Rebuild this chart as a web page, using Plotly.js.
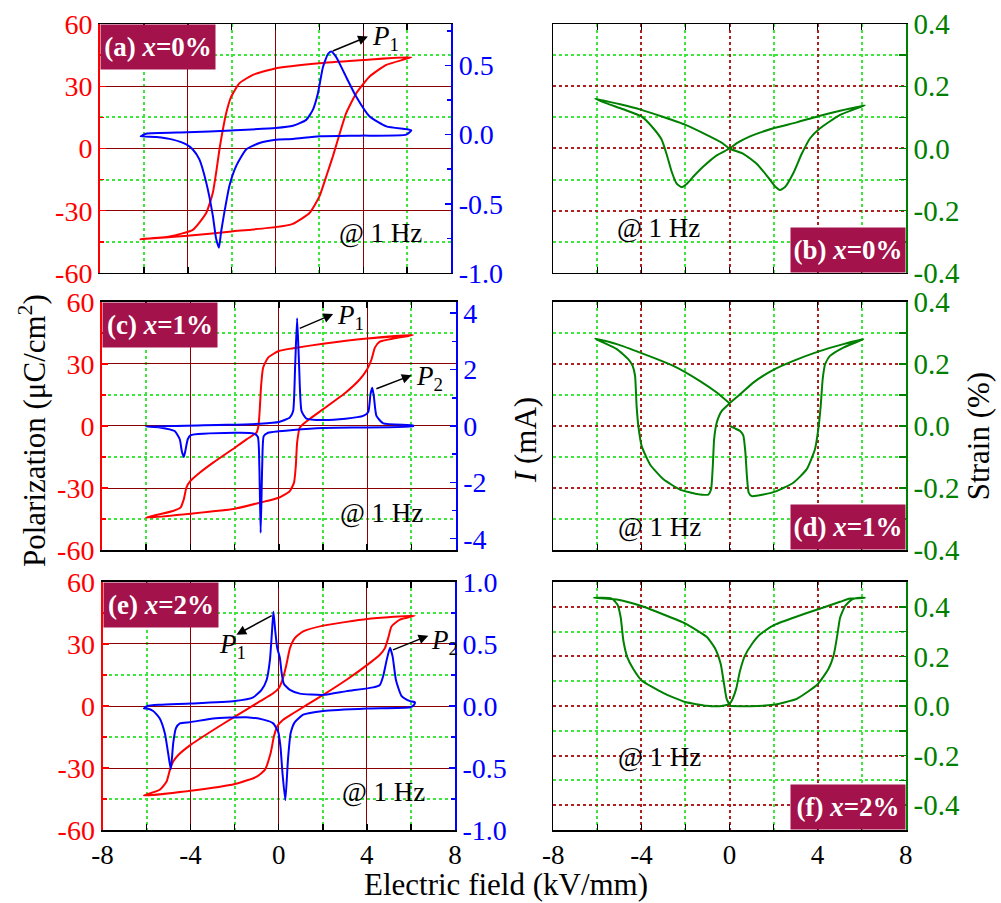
<!DOCTYPE html>
<html><head><meta charset="utf-8">
<script src="https://cdn.plot.ly/plotly-3.0.1.min.js"></script>
<style>html,body{margin:0;padding:0;background:#fff;} #chart{width:1001px;height:903px;}</style>
</head><body><div id="chart"></div>
<script>
// ---------- Data ----------
// Panel (a) x=0%: P-E loop and current
const aPE_E = [6.19, 4.01, 1.99, 0.03, -1.03, -1.64, -2.02, -2.25, -2.43, -2.55, -2.71, -2.86, -3.16, -3.77, -4.83, -6.15, -4.01, -2.0, 0, 0.79, 1.55, 2.0, 2.31, 2.61, 2.84, 3.22, 3.68, 4.29, 5.05, 6.19];
const aPE_P = [44.0, 42.7, 41.1, 38.7, 35.5, 31.5, 25.0, 17.0, 7.4, 0, -11.9, -21.5, -31.1, -39.2, -42.4, -43.7, -42.05, -40, -37.9, -36.3, -31.1, -23.1, -13.5, -3.9, 4.2, 17, 26.6, 34.7, 40.3, 44.0];
const aI_E = [-6.15, -5.90, -4.01, -2.01, 0, 0.79, 1.40, 1.70, 1.93, 2.16, 2.39, 2.54, 2.77, 3.22, 3.68, 4.29, 5.05, 5.96, 6.19, 5.96, 3.83, 2.0, 0.79, 0, -0.73, -1.34, -1.79, -2.10, -2.33, -2.48, -2.58, -2.71, -2.86, -3.16, -3.47, -3.77, -4.07, -4.68, -5.44, -6.15];
const aI_I = [-0.012, 0.007, 0.017, 0.031, 0.048, 0.064, 0.107, 0.179, 0.298, 0.488, 0.583, 0.602, 0.560, 0.417, 0.274, 0.131, 0.060, 0.040, 0.031, 0, -0.007, -0.012, -0.031, -0.036, -0.060, -0.107, -0.226, -0.369, -0.560, -0.702, -0.817, -0.75, -0.583, -0.345, -0.179, -0.107, -0.071, -0.036, -0.017, -0.012];
// Panel (b) x=0%: strain
const bS_E = [6.15, 5.02, 3.99, 3.05, 1.99, 0.93, 0.33, 0, -0.58, -1.19, -1.64, -1.95, -2.17, -2.40, -2.63, -2.85, -3.08, -3.46, -4.0, -4.82, -5.58, -6.11, -4.97, -4.0, -3.0, -2.0, -1.04, -0.36, 0, 0.63, 1.23, 1.69, 2.07, 2.29, 2.52, 2.90, 3.28, 3.66, 4.11, 5.02, 6.15];
const bS_S = [0.139, 0.121, 0.103, 0.084, 0.065, 0.039, 0.017, 0, -0.022, -0.058, -0.090, -0.114, -0.124, -0.113, -0.074, -0.020, 0.028, 0.065, 0.103, 0.126, 0.145, 0.160, 0.142, 0.124, 0.101, 0.076, 0.044, 0.019, 0, -0.017, -0.049, -0.087, -0.122, -0.133, -0.124, -0.079, -0.017, 0.033, 0.065, 0.108, 0.139];
// Panel (c) x=1%
const cPE_E = [6.08, 4.0, 2.0, 0.65, 0, -0.48, -0.71, -0.80, -0.86, -0.92, -1.01, -1.46, -1.99, -2.97, -3.58, -4.0, -4.18, -4.30, -4.45, -4.79, -5.39, -6.02, -4.0, -1.99, -0.86, 0, 0.5, 0.69, 0.77, 0.83, 0.95, 1.18, 2.0, 3.02, 3.67, 4.0, 4.2, 4.35, 4.57, 5.18, 6.08];
const cPE_P = [44.0, 42.3, 39.8, 37.6, 36.3, 33.1, 28.2, 19.4, 8.1, 0, -3.2, -6.5, -10.5, -17.7, -22.6, -26.6, -29.8, -35.5, -39.5, -41.1, -42.7, -44.4, -42.4, -40, -37.1, -34.7, -31.5, -27.4, -19.4, -8.1, -0.8, 1.6, 8.1, 16.1, 22.6, 27.4, 32.3, 37.9, 40.8, 42.3, 44.0];
const cI_E = [-6.02, -2.37, -0.86, 0, 0.5, 0.65, 0.74, 0.83, 0.92, 1.03, 1.25, 2.0, 3.02, 3.82, 4.05, 4.15, 4.23, 4.30, 4.42, 4.73, 6.08, 6.08, 2.0, 0.65, 0, -0.48, -0.68, -0.75, -0.82, -0.88, -0.95, -1.16, -1.99, -4.0, -4.12, -4.23, -4.30, -4.39, -4.48, -4.71, -5.39, -6.02];
const cI_I = [-0.02, 0.04, 0.08, 0.14, 0.30, 0.53, 2.13, 3.82, 2.13, 0.53, 0.26, 0.21, 0.26, 0.36, 0.50, 1.13, 1.36, 1.07, 0.36, 0.09, 0.02, -0.01, -0.07, -0.14, -0.19, -0.24, -0.36, -1.42, -3.79, -1.42, -0.38, -0.26, -0.24, -0.33, -0.47, -0.89, -1.10, -0.89, -0.47, -0.18, -0.05, -0.02];
// Panel (d) x=1%: strain
const dS_E = [0.02, 0.25, 0.48, 0.63, 0.72, 0.79, 0.87, 1.01, 1.54, 2.14, 2.90, 3.50, 3.88, 4.03, 4.14, 4.23, 4.34, 4.56, 5.17, 6.08, 5.17, 3.99, 2.90, 1.99, 1.08, 0.48, 0, -0.36, -0.58, -0.70, -0.76, -0.84, -0.96, -1.49, -2.25, -3.0, -3.61, -3.99, -4.14, -4.22, -4.29, -4.40, -4.59, -5.12, -6.11, -5.12, -4.0, -2.55, -1.34, -0.58, 0];
const dS_S = [0, -0.008, -0.016, -0.032, -0.086, -0.162, -0.215, -0.226, -0.221, -0.210, -0.183, -0.140, -0.075, -0.011, 0.065, 0.151, 0.199, 0.226, 0.253, 0.280, 0.264, 0.239, 0.210, 0.181, 0.140, 0.102, 0.073, 0.048, 0.011, -0.043, -0.129, -0.205, -0.221, -0.219, -0.205, -0.172, -0.124, -0.065, 0, 0.065, 0.162, 0.194, 0.215, 0.248, 0.282, 0.264, 0.235, 0.194, 0.145, 0.108, 0.073];
// Panel (e) x=2%
const ePE_E = [6.18, 4.02, 2.02, 1.11, 0.73, 0.51, 0.33, 0.17, 0, -0.25, -0.86, -1.99, -2.97, -4.0, -4.56, -4.79, -4.94, -5.09, -5.40, -6.12, -4.0, -1.99, -1.0, -0.63, -0.37, -0.22, -0.07, 0.20, 0.66, 2.02, 3.08, 4.02, 4.59, 4.82, 4.97, 5.12, 5.50, 6.18];
const ePE_P = [43.7, 42.1, 38.9, 36.1, 32.9, 28.0, 19.1, 12.7, 8.6, 6.2, 2.2, -5.1, -11.6, -18.8, -23.7, -26.9, -30.9, -36.5, -40.5, -43.3, -41.0, -37.7, -34.2, -30.9, -22.9, -14.8, -9.9, -6.7, -3.5, 5.4, 12.7, 19.9, 24.8, 28.0, 32.9, 38.5, 41.8, 43.7];
const eI_E = [-6.12, -5.97, -5.40, -4.0, -1.99, -1.16, -0.78, -0.55, -0.40, -0.31, -0.24, -0.16, -0.07, 0.05, 0.13, 0.23, 0.51, 0.96, 2.02, 3.08, 4.29, 4.59, 4.74, 4.90, 5.05, 5.17, 5.32, 5.58, 5.96, 6.18, 6.14, 5.96, 4.02, 2.02, 1.11, 0.73, 0.54, 0.42, 0.30, 0.17, 0.08, -0.02, -0.25, -0.70, -1.46, -2.97, -4.0, -4.49, -4.67, -4.79, -4.90, -5.02, -5.17, -5.40, -5.70, -5.97, -6.12];
const eI_I = [-0.02, 0.0, 0.01, 0.02, 0.04, 0.07, 0.13, 0.21, 0.37, 0.59, 0.76, 0.61, 0.47, 0.39, 0.27, 0.18, 0.13, 0.10, 0.09, 0.12, 0.15, 0.17, 0.24, 0.37, 0.47, 0.40, 0.21, 0.08, 0.04, 0.03, 0.01, -0.01, -0.02, -0.04, -0.07, -0.13, -0.22, -0.43, -0.76, -0.54, -0.33, -0.21, -0.14, -0.11, -0.09, -0.10, -0.13, -0.14, -0.18, -0.30, -0.51, -0.38, -0.22, -0.10, -0.04, -0.02, -0.02];
// Panel (f) x=2%: strain
const fS_E = [0.02, 0.93, 1.99, 3.05, 3.99, 4.49, 4.74, 4.90, 5.02, 5.25, 5.55, 5.93, 6.15, 5.47, 5.02, 3.99, 2.90, 1.99, 1.39, 1.01, 0.70, 0.48, 0.30, 0.11, 0, -0.13, -0.25, -0.40, -0.66, -1.04, -2.0, -3.0, -4.0, -5.12, -6.15, -5.35, -5.09, -4.94, -4.82, -4.64, -4.37, -3.99, -3.0, -2.0, -1.04, -0.36, 0];
const fS_S = [0, -0.001, 0.005, 0.029, 0.087, 0.149, 0.209, 0.289, 0.356, 0.403, 0.429, 0.436, 0.436, 0.433, 0.420, 0.389, 0.356, 0.325, 0.289, 0.249, 0.203, 0.143, 0.069, 0.023, 0.009, 0.029, 0.089, 0.169, 0.233, 0.279, 0.332, 0.369, 0.403, 0.429, 0.436, 0.433, 0.409, 0.356, 0.263, 0.196, 0.149, 0.103, 0.052, 0.016, 0.001, 0, 0.007];

// Tick labels
const xTickVals = [-8, -4, 0, 4, 8];
const xTickText = ['-8', '-4', '0', '4', '8'];
const xMinorVals = [-6, -2, 2, 6];
const pTickVals = [-60, -30, 0, 30, 60];
const pTickText = ['-60', '-30', '0', '30', '60'];
const pMinorVals = [-45, -15, 15, 45];
const iTickValsSmall = [-1, -0.5, 0, 0.5, 1];
const iTickTextSmall = ['-1.0', '-0.5', '0.0', '0.5', '1.0'];
const iMinorSmall = [-0.75, -0.25, 0.25, 0.75];
const iTickValsBig = [-4, -2, 0, 2, 4];
const iTickTextBig = ['-4', '-2', '0', '2', '4'];
const iMinorBig = [-3, -1, 1, 3];
const sTickVals = [-0.4, -0.2, 0, 0.2, 0.4];
const sTickText = ['-0.4', '-0.2', '0.0', '0.2', '0.4'];
const sMinorVals = [-0.5, -0.3, -0.1, 0.1, 0.3, 0.5];
const panelLabels = ['(a) <i>x</i>=0%', '(b) <i>x</i>=0%', '(c) <i>x</i>=1%', '(d) <i>x</i>=1%', '(e) <i>x</i>=2%', '(f) <i>x</i>=2%'];

// ---------- Styling ----------
const FONT = '"Liberation Serif", "Times New Roman", serif';
const RED = '#FF0000', BLUE = '#0000FF', GREEN = '#008000';
const MAJOR = '#8B0000', MAJOR2 = '#B02020', MINOR = '#3CE63C', BOX = '#A3124A';
const MINOR_W = 2;

function line(xs, ys, xa, ya, color) {
  return {type: 'scatter', mode: 'lines', x: xs, y: ys, xaxis: xa, yaxis: ya,
    line: {color: color, width: 2, shape: 'spline', smoothing: 0.5}, hoverinfo: 'skip', showlegend: false};
}
function holder(xa, ya) {
  // empty trace so that the base subplot of each strain panel exists
  return {type: 'scatter', mode: 'lines', x: [], y: [], xaxis: xa, yaxis: ya, hoverinfo: 'skip', showlegend: false};
}
function xAxis(domain, yAnchor, showLabels, majorDash, majorColor, majorW) {
  return {domain: domain, anchor: yAnchor, range: [-8, 8], fixedrange: true,
    tickmode: 'array', tickvals: xTickVals, ticktext: xTickText, showticklabels: showLabels,
    tickfont: {family: FONT, size: 27, color: '#000'},
    ticks: 'inside', ticklen: 6, tickwidth: 1.5, tickcolor: '#000',
    showline: true, linecolor: '#000', linewidth: 1.5, mirror: 'ticks',
    showgrid: true, gridcolor: majorColor, gridwidth: majorW, griddash: majorDash, zeroline: false,
    minor: {tickmode: 'array', tickvals: xMinorVals, ticks: 'inside', ticklen: 6, tickwidth: 1.5, tickcolor: '#000',
      showgrid: true, gridcolor: MINOR, gridwidth: MINOR_W, griddash: 'dot'}};
}
function pAxis(domain, xAnchor) {
  return {domain: domain, anchor: xAnchor, range: [-60, 60], fixedrange: true,
    tickmode: 'array', tickvals: pTickVals, ticktext: pTickText,
    tickfont: {family: FONT, size: 28, color: RED},
    ticks: 'inside', ticklen: 6, tickwidth: 1.5, tickcolor: RED,
    showline: true, linecolor: RED, linewidth: 2, showgrid: true, gridcolor: MAJOR, gridwidth: 1, zeroline: false,
    minor: {tickmode: 'array', tickvals: pMinorVals, ticks: 'inside', ticklen: 4, tickcolor: RED,
      showgrid: true, gridcolor: MINOR, gridwidth: MINOR_W, griddash: 'dot'}};
}
function iAxis(overlay, xAnchor, range, vals, text, minorVals) {
  return {overlaying: overlay, side: 'right', anchor: xAnchor, range: range, fixedrange: true,
    tickmode: 'array', tickvals: vals, ticktext: text,
    tickfont: {family: FONT, size: 28, color: BLUE},
    ticks: 'inside', ticklen: 6, tickwidth: 1.5, tickcolor: BLUE,
    showline: true, linecolor: BLUE, linewidth: 2, showgrid: false, zeroline: false,
    minor: {tickmode: 'array', tickvals: minorVals, ticks: 'inside', ticklen: 4, tickcolor: BLUE, showgrid: false}};
}
function sBase(domain, xAnchor, range) {
  return {domain: domain, anchor: xAnchor, range: range, fixedrange: true,
    tickmode: 'array', tickvals: sTickVals, showticklabels: false, ticks: '',
    showline: true, linecolor: '#000', linewidth: 1.5,
    showgrid: true, gridcolor: MAJOR2, griddash: 'dot', gridwidth: 2, zeroline: false,
    minor: {tickmode: 'array', tickvals: sMinorVals, showgrid: true, gridcolor: MINOR, griddash: 'dot', gridwidth: MINOR_W}};
}
function sAxis(overlay, xAnchor, range) {
  return {overlaying: overlay, side: 'right', anchor: xAnchor, range: range, fixedrange: true,
    tickmode: 'array', tickvals: sTickVals, ticktext: sTickText,
    tickfont: {family: FONT, size: 29, color: GREEN},
    ticks: 'inside', ticklen: 7, tickwidth: 1.5, tickcolor: GREEN,
    showline: true, linecolor: GREEN, linewidth: 2, showgrid: false, zeroline: false,
    minor: {tickmode: 'array', tickvals: sMinorVals, ticks: 'inside', ticklen: 7, tickcolor: GREEN, showgrid: false}};
}

const row1 = [0.6977, 0.9734], row2 = [0.3909, 0.6656], row3 = [0.0808, 0.3555];
const colA = [0.0999, 0.4506], colC = [0.1019, 0.4551], colE = [0.1024, 0.4545], colR = [0.5528, 0.9048];

const data = [
  line(aPE_E, aPE_P, 'x', 'y', RED),
  line(aI_E, aI_I, 'x', 'y2', BLUE),
  holder('x2', 'y3'),
  line(bS_E, bS_S, 'x2', 'y4', GREEN),
  line(cPE_E, cPE_P, 'x3', 'y5', RED),
  line(cI_E, cI_I, 'x3', 'y6', BLUE),
  holder('x4', 'y7'),
  line(dS_E, dS_S, 'x4', 'y8', GREEN),
  line(ePE_E, ePE_P, 'x5', 'y9', RED),
  line(eI_E, eI_I, 'x5', 'y10', BLUE),
  holder('x6', 'y11'),
  line(fS_E, fS_S, 'x6', 'y12', GREEN)
];

function boxLabel(text, xr, yr, right) {
  return {xref: xr + ' domain', yref: yr + ' domain', x: right ? 1 : 0, y: right ? 0 : 1,
    xanchor: right ? 'right' : 'left', yanchor: right ? 'bottom' : 'top',
    text: '<b>' + text + '</b>', font: {family: FONT, size: 27, color: '#fff'},
    bgcolor: BOX, borderpad: 3, width: 108, height: 38, showarrow: false, align: 'center'};
}
function hz(xr, yr, fx, fy) {
  return {xref: xr + ' domain', yref: yr + ' domain', x: fx, y: fy, xanchor: 'center', yanchor: 'middle',
    text: '@ 1 Hz', font: {family: FONT, size: 27, color: '#000'}, showarrow: false};
}
function arrow(xr, yr, hx, hy, tx, ty) {
  return {xref: xr, yref: yr, axref: xr, ayref: yr, x: hx, y: hy, ax: tx, ay: ty, text: '',
    showarrow: true, arrowhead: 2, arrowsize: 1.3, arrowwidth: 1.5, arrowcolor: '#000', standoff: 0, startstandoff: 0};
}
function plabel(xr, yr, x, y, sub) {
  return {xref: xr, yref: yr, x: x, y: y, xanchor: 'left', yanchor: 'middle',
    text: '<i>P</i><sub>' + sub + '</sub>', font: {family: FONT, size: 27, color: '#000'}, showarrow: false};
}
function title(text, x, y, angle) {
  return {xref: 'paper', yref: 'paper', x: x, y: y, xanchor: 'center', yanchor: 'middle', textangle: angle,
    text: text, font: {family: FONT, size: 31, color: '#000'}, showarrow: false};
}

const annotations = [
  boxLabel(panelLabels[0], 'x', 'y', false),
  boxLabel(panelLabels[1], 'x2', 'y3', true),
  boxLabel(panelLabels[2], 'x3', 'y5', false),
  boxLabel(panelLabels[3], 'x4', 'y7', true),
  boxLabel(panelLabels[4], 'x5', 'y9', false),
  boxLabel(panelLabels[5], 'x6', 'y11', true),
  hz('x', 'y', 0.80, 0.16), hz('x2', 'y3', 0.297, 0.18),
  hz('x3', 'y5', 0.79, 0.149), hz('x4', 'y7', 0.30, 0.093),
  hz('x5', 'y9', 0.796, 0.153), hz('x6', 'y11', 0.30, 0.294),
  arrow('x', 'y2', 4.21, 0.71, 2.54, 0.60), plabel('x', 'y2', 4.30, 0.70, '1'),
  arrow('x3', 'y6', 2.46, 3.97, 0.88, 3.44), plabel('x3', 'y6', 2.55, 3.85, '1'),
  arrow('x3', 'y6', 6.01, 1.80, 4.35, 1.30), plabel('x3', 'y6', 6.10, 1.70, '2'),
  arrow('x5', 'y10', -1.92, 0.575, -0.25, 0.736), plabel('x5', 'y10', -2.78, 0.48, '1'),
  arrow('x5', 'y10', 6.79, 0.567, 5.12, 0.448), plabel('x5', 'y10', 6.80, 0.52, '2'),
  title('Polarization (μC/cm<sup>2</sup>)', 0.032, 0.5227, -90),
  title('<i>I</i> (mA)', 0.5245, 0.5127, -90),
  title('Strain (%)', 0.977, 0.517, -90),
  title('Electric field (kV/mm)', 0.5055, 0.021, 0)
];

const layout = {
  width: 1001, height: 903, margin: {l: 0, r: 0, t: 0, b: 0},
  paper_bgcolor: '#fff', plot_bgcolor: 'rgba(0,0,0,0)', showlegend: false,
  xaxis: xAxis(colA, 'y', false, 'solid', MAJOR, 1),
  yaxis: pAxis(row1, 'x'),
  yaxis2: iAxis('y', 'x', [-1.0, 0.8], iTickValsSmall.slice(0, 4), iTickTextSmall.slice(0, 4), iMinorSmall),
  xaxis2: xAxis(colR, 'y3', false, 'dot', MAJOR2, 2),
  yaxis3: sBase(row1, 'x2', [-0.4, 0.4]),
  yaxis4: sAxis('y3', 'x2', [-0.4, 0.4]),
  xaxis3: xAxis(colC, 'y5', false, 'solid', MAJOR, 1),
  yaxis5: pAxis(row2, 'x3'),
  yaxis6: iAxis('y5', 'x3', [-4.4, 4.4], iTickValsBig, iTickTextBig, iMinorBig),
  xaxis4: xAxis(colR, 'y7', false, 'dot', MAJOR2, 2),
  yaxis7: sBase(row2, 'x4', [-0.4, 0.4]),
  yaxis8: sAxis('y7', 'x4', [-0.4, 0.4]),
  xaxis5: xAxis(colE, 'y9', true, 'solid', MAJOR, 1),
  yaxis9: pAxis(row3, 'x5'),
  yaxis10: iAxis('y9', 'x5', [-1.0, 1.0], iTickValsSmall, iTickTextSmall, iMinorSmall),
  xaxis6: xAxis(colR, 'y11', true, 'dot', MAJOR2, 2),
  yaxis11: sBase(row3, 'x6', [-0.5, 0.5]),
  yaxis12: sAxis('y11', 'x6', [-0.5, 0.5]),
  annotations: annotations
};

Plotly.newPlot('chart', data, layout, {staticPlot: true, displayModeBar: false});
</script></body></html>
